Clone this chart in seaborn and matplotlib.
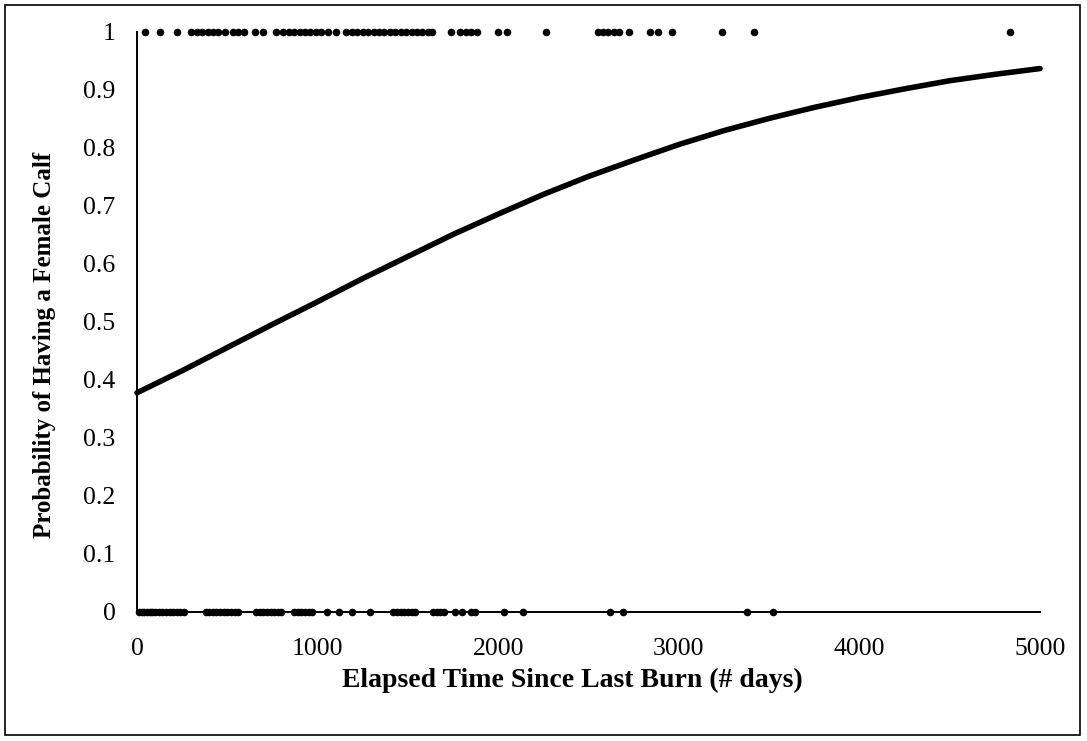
import matplotlib
matplotlib.use("Agg")
import matplotlib.pyplot as plt
import seaborn as sns
import pandas as pd
from matplotlib.patches import Rectangle

# Observed outcomes: 1 = female calf, 0 = not
top_x = [44, 127, 221, 300, 330, 360, 395, 420, 450, 490, 530, 560, 590, 655, 700,
         770, 810, 840, 870, 900, 930, 960, 990, 1020, 1060, 1100, 1160, 1190, 1220,
         1250, 1280, 1310, 1340, 1370, 1400, 1430, 1460, 1490, 1520, 1550, 1580, 1610,
         1635, 1740, 1790, 1820, 1850, 1885, 2000, 2050, 2265, 2550, 2580, 2610, 2640,
         2670, 2725, 2840, 2885, 2960, 3240, 3415, 4835]
bottom_x = [10, 25, 40, 55, 70, 85, 100, 120, 140, 160, 180, 200, 220, 240, 260, 380,
            400, 420, 440, 460, 480, 500, 520, 540, 560, 660, 680, 700, 720, 740, 760,
            780, 800, 870, 890, 910, 930, 950, 970, 1050, 1120, 1190, 1290, 1420, 1440,
            1460, 1480, 1500, 1520, 1540, 1640, 1660, 1680, 1700, 1760, 1800, 1850, 1870,
            2030, 2140, 2620, 2690, 3380, 3520]

# Fitted probability curve
curve_x = [0, 250, 500, 750, 1000, 1250, 1500, 1750, 2000, 2250, 2500, 2750, 3000,
           3250, 3500, 3750, 4000, 4250, 4500, 4750, 5000]
curve_y = [0.378, 0.416, 0.456, 0.496, 0.535, 0.575, 0.613, 0.651, 0.686, 0.720, 0.751,
           0.779, 0.806, 0.830, 0.851, 0.870, 0.887, 0.902, 0.916, 0.927, 0.937]

x_ticks = [0, 1000, 2000, 3000, 4000, 5000]
y_ticks = [0, 0.1, 0.2, 0.3, 0.4, 0.5, 0.6, 0.7, 0.8, 0.9, 1]
y_labels = ["0", "0.1", "0.2", "0.3", "0.4", "0.5", "0.6", "0.7", "0.8", "0.9", "1"]

sns.set_theme(style="white")
plt.rcParams["font.family"] = ["Liberation Serif", "DejaVu Serif"]

W, H = 1087, 741
fig = plt.figure(figsize=(W / 100, H / 100), dpi=100)
ax = fig.add_axes([137 / W, 1 - 612 / H, (1040 - 137) / W, (612 - 32) / H])

pts = pd.DataFrame({
    "x": top_x + bottom_x,
    "y": [1] * len(top_x) + [0] * len(bottom_x),
})
sns.scatterplot(data=pts, x="x", y="y", ax=ax, color="black", s=30,
                edgecolor="black", linewidth=0, clip_on=False, zorder=3)

curve = pd.DataFrame({"x": curve_x, "y": curve_y})
sns.lineplot(data=curve, x="x", y="y", ax=ax, color="black", linewidth=4.0,
             clip_on=False, zorder=2)

ax.set_xlim(0, 5000)
ax.set_ylim(0, 1)
ax.set_xticks(x_ticks)
ax.set_xticklabels([str(v) for v in x_ticks])
ax.set_yticks(y_ticks)
ax.set_yticklabels(y_labels)
for side in ["top", "right"]:
    ax.spines[side].set_visible(False)
for side in ["left", "bottom"]:
    ax.spines[side].set_color("black")
    ax.spines[side].set_linewidth(1.4)
ax.tick_params(axis="both", which="major", direction="out", length=6.5, width=1.4,
               color="black", labelsize=18.5, labelcolor="black")
ax.tick_params(axis="x", pad=12)
ax.tick_params(axis="y", pad=9)

ax.set_xlabel("Elapsed Time Since Last Burn (# days)", fontsize=20, fontweight="bold",
              color="black", va="center")
ax.xaxis.set_label_coords(572 / W, 1 - 680 / H, transform=fig.transFigure)
ax.set_ylabel("Probability of Having a Female Calf", fontsize=18, fontweight="bold",
              color="black", va="center")
ax.yaxis.set_label_coords(45 / W, 1 - 345 / H, transform=fig.transFigure)
ax.grid(False)

fig.patches.append(Rectangle((5 / W, 6 / H), 1075 / W, 730 / H,
                             transform=fig.transFigure, fill=False,
                             edgecolor="black", linewidth=1.2))

fig.savefig("out.png", dpi=100)
